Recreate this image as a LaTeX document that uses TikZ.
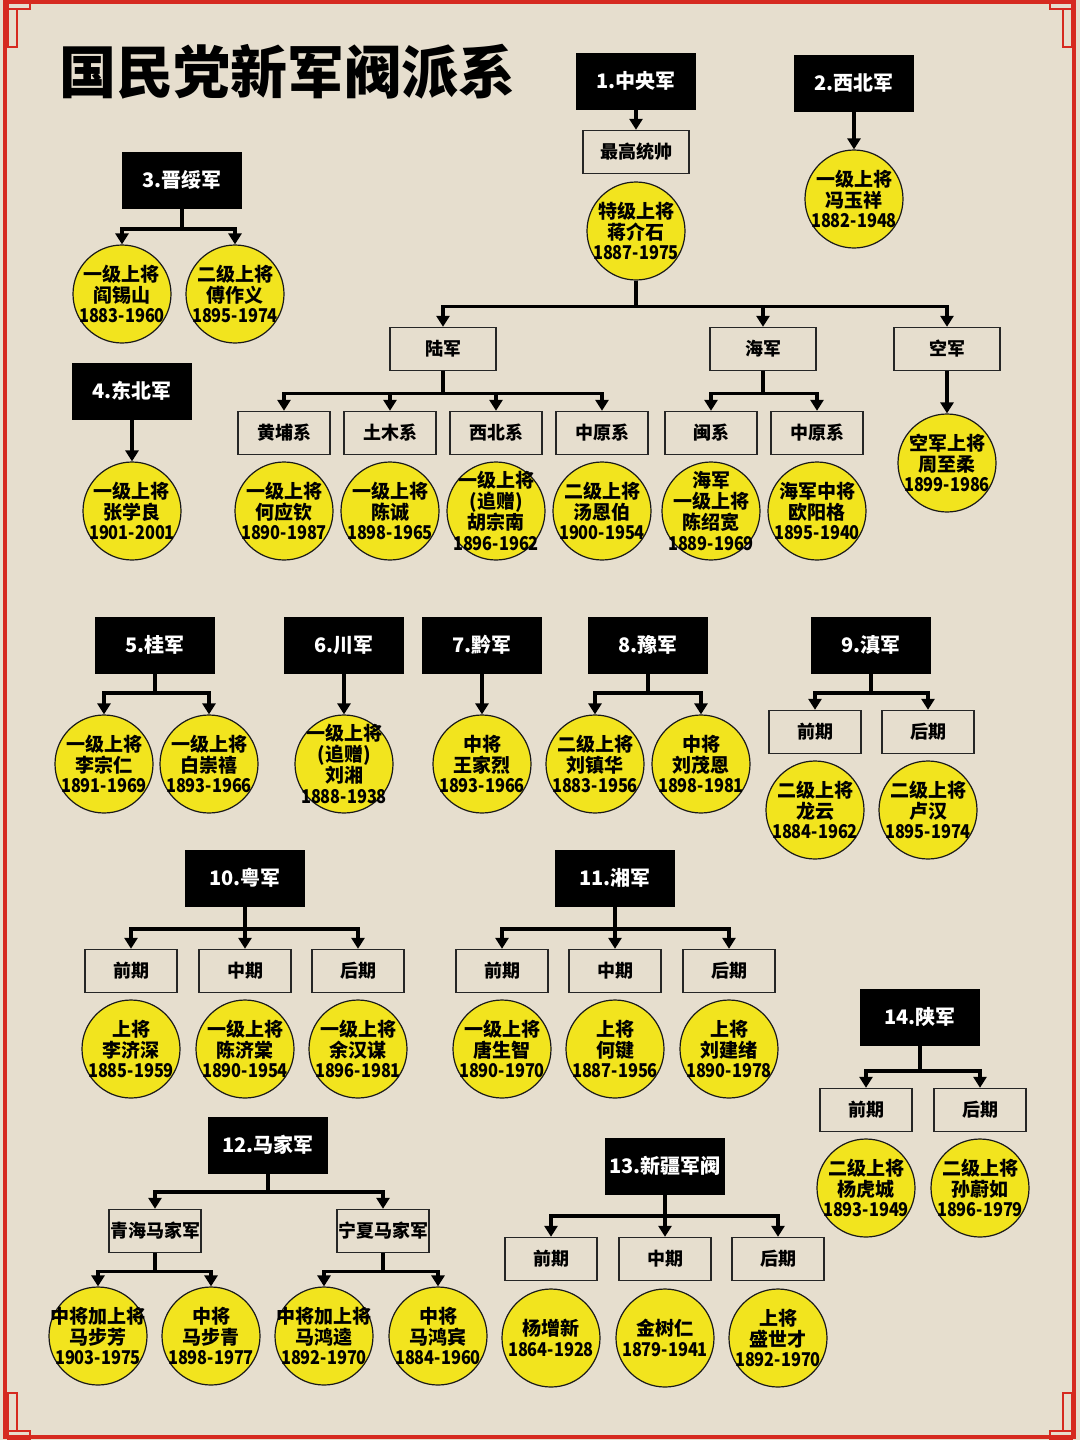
\documentclass[tikz,border=0pt]{standalone}
\usepackage{fontspec}
\usepackage{graphicx}
\setmainfont{Noto Sans CJK SC}
\usetikzlibrary{arrows.meta}
\definecolor{paper}{RGB}{230,222,206}
\definecolor{gyellow}{RGB}{242,228,30}
\definecolor{framered}{RGB}{214,42,32}
\newcommand{\yrs}[1]{\scalebox{0.86}[1]{#1}}
\tikzset{
    x=0.5pt, y=-0.5pt,
    army/.style={
        fill=black, text=white,
        minimum width=60pt, minimum height=28.5pt, inner sep=0pt,
        font=\fontsize{10}{12}\selectfont\bfseries
    },
    branch/.style={
        draw=black!85, line width=0.7pt,
        minimum width=46pt, minimum height=21.5pt, inner sep=0pt,
        font=\fontsize{9}{10}\selectfont\bfseries
    },
    widebox/.style={
        branch, minimum width=53pt
    },
    general/.style={
        circle, draw=black!90, line width=0.6pt, fill=gyellow,
        minimum size=49pt, inner sep=-8pt, align=center,
        font=\fontsize{9.5}{10.4}\selectfont\bfseries
    },
    link/.style={
        line width=1.6pt,
        -{Triangle[width=6.5pt,length=5.5pt]}
    },
    frame/.style={
        draw=framered, line width=1.2pt
    }
}

\begin{document}
\begin{tikzpicture}
    \useasboundingbox (0,0) rectangle (1080,1440);
    \fill[paper] (0,0) rectangle (1080,1440);
    % red frame and corners
    \draw[framered, line width=2.2pt] (5,2) rectangle (1074,1437);
    \draw[frame] (8,0) rectangle (30,9) (8,9) rectangle (17,47);
    \draw[frame] (1050,0) rectangle (1072,9) (1063,9) rectangle (1072,47);
    \draw[frame] (8,1431) rectangle (30,1440) (8,1393) rectangle (17,1431);
    \draw[frame] (1050,1431) rectangle (1072,1440) (1063,1393) rectangle (1072,1431);

    \node[anchor=west, font=\fontsize{28.5}{30}\selectfont\bfseries] (title) at (52,72) {国民党新军阀派系};

    % army headers
    \node[army] (a1) at (636,81) {1.中央军};
    \node[army] (a2) at (854,83) {2.西北军};
    \node[army] (a3) at (182,180) {3.晋绥军};
    \node[army] (a4) at (132,391) {4.东北军};
    \node[army] (a5) at (155,645) {5.桂军};
    \node[army] (a6) at (344,645) {6.川军};
    \node[army] (a7) at (482,645) {7.黔军};
    \node[army] (a8) at (648,645) {8.豫军};
    \node[army] (a9) at (871,645) {9.滇军};
    \node[army] (a10) at (245,878) {10.粤军};
    \node[army] (a11) at (615,878) {11.湘军};
    \node[army] (a12) at (268,1145) {12.马家军};
    \node[army] (a13) at (665,1166) {13.新疆军阀};
    \node[army] (a14) at (920,1017) {14.陕军};

    % 1. central army
    \node[widebox] (zg) at (636,152) {最高统帅};
    \node[general] (jiang) at (636,231) {特级上将\\蒋介石\\\yrs{1887-1975}};
    \node[widebox] (lu) at (443,349) {陆军};
    \node[widebox] (hai) at (763,349) {海军};
    \node[widebox] (kong) at (947,349) {空军};
    \node[branch] (huangpu) at (284,433) {黄埔系};
    \node[branch] (tumu) at (390,433) {土木系};
    \node[branch] (xibei) at (496,433) {西北系};
    \node[branch] (zhongyuan) at (602,433) {中原系};
    \node[branch] (min) at (711,433) {闽系};
    \node[branch] (zhongyuanh) at (817,433) {中原系};
    \node[general] (he) at (284,511) {一级上将\\何应钦\\\yrs{1890-1987}};
    \node[general] (chencheng) at (390,511) {一级上将\\陈诚\\\yrs{1898-1965}};
    \node[general] (hu) at (496,511) {一级上将\\(追赠)\\胡宗南\\\yrs{1896-1962}};
    \node[general] (tang) at (602,511) {二级上将\\汤恩伯\\\yrs{1900-1954}};
    \node[general] (chensk) at (711,511) {海军\\一级上将\\陈绍宽\\\yrs{1889-1969}};
    \node[general] (ouyang) at (817,511) {海军中将\\欧阳格\\\yrs{1895-1940}};
    \node[general] (zhou) at (947,463) {空军上将\\周至柔\\\yrs{1899-1986}};

    % 2.-4.
    \node[general] (feng) at (854,199) {一级上将\\冯玉祥\\\yrs{1882-1948}};
    \node[general] (yan) at (122,294) {一级上将\\阎锡山\\\yrs{1883-1960}};
    \node[general] (fu) at (235,294) {二级上将\\傅作义\\\yrs{1895-1974}};
    \node[general] (zhang) at (132,511) {一级上将\\张学良\\\yrs{1901-2001}};

    % 5.-9.
    \node[general] (li) at (104,764) {一级上将\\李宗仁\\\yrs{1891-1969}};
    \node[general] (bai) at (209,764) {一级上将\\白崇禧\\\yrs{1893-1966}};
    \node[general] (liuxiang) at (344,764) {一级上将\\(追赠)\\刘湘\\\yrs{1888-1938}};
    \node[general] (wang) at (482,764) {中将\\王家烈\\\yrs{1893-1966}};
    \node[general] (liuzh) at (595,764) {二级上将\\刘镇华\\\yrs{1883-1956}};
    \node[general] (liume) at (701,764) {中将\\刘茂恩\\\yrs{1898-1981}};
    \node[branch] (d1) at (815,732) {前期};
    \node[branch] (d2) at (928,732) {后期};
    \node[general] (long) at (815,810) {二级上将\\龙云\\\yrs{1884-1962}};
    \node[general] (luhan) at (928,810) {二级上将\\卢汉\\\yrs{1895-1974}};

    % 10.-11.
    \node[branch] (y1) at (131,971) {前期};
    \node[branch] (y2) at (245,971) {中期};
    \node[branch] (y3) at (358,971) {后期};
    \node[general] (lijs) at (131,1049) {上将\\李济深\\\yrs{1885-1959}};
    \node[general] (chenjt) at (245,1049) {一级上将\\陈济棠\\\yrs{1890-1954}};
    \node[general] (yuhm) at (358,1049) {一级上将\\余汉谋\\\yrs{1896-1981}};
    \node[branch] (x1) at (502,971) {前期};
    \node[branch] (x2) at (615,971) {中期};
    \node[branch] (x3) at (729,971) {后期};
    \node[general] (tangsz) at (502,1049) {一级上将\\唐生智\\\yrs{1890-1970}};
    \node[general] (hejian) at (615,1049) {上将\\何键\\\yrs{1887-1956}};
    \node[general] (liujx) at (729,1049) {上将\\刘建绪\\\yrs{1890-1978}};

    % 12.-14.
    \node[branch] (qinghai) at (155,1231) {青海马家军};
    \node[branch] (ningxia) at (383,1231) {宁夏马家军};
    \node[general] (mabf) at (98,1336) {中将加上将\\马步芳\\\yrs{1903-1975}};
    \node[general] (mabq) at (211,1336) {中将\\马步青\\\yrs{1898-1977}};
    \node[general] (mahk) at (324,1336) {中将加上将\\马鸿逵\\\yrs{1892-1970}};
    \node[general] (mahb) at (438,1336) {中将\\马鸿宾\\\yrs{1884-1960}};
    \node[branch] (j1) at (551,1259) {前期};
    \node[branch] (j2) at (665,1259) {中期};
    \node[branch] (j3) at (778,1259) {后期};
    \node[general] (yangzx) at (551,1338) {杨增新\\\yrs{1864-1928}};
    \node[general] (jin) at (665,1338) {金树仁\\\yrs{1879-1941}};
    \node[general] (sheng) at (778,1338) {上将\\盛世才\\\yrs{1892-1970}};
    \node[branch] (s1) at (866,1110) {前期};
    \node[branch] (s2) at (980,1110) {后期};
    \node[general] (yanghc) at (866,1188) {二级上将\\杨虎城\\\yrs{1893-1949}};
    \node[general] (sun) at (980,1188) {二级上将\\孙蔚如\\\yrs{1896-1979}};

    % connectors
    \draw[link] (a1) -- (zg);
    \draw[link] (jiang.south) -- ++(0,26) -| (lu.north);
    \draw[link] (jiang.south) -- ++(0,26) -| (hai.north);
    \draw[link] (jiang.south) -- ++(0,26) -| (kong.north);
    \draw[link] (lu.south) -- ++(0,22) -| (huangpu.north);
    \draw[link] (lu.south) -- ++(0,22) -| (tumu.north);
    \draw[link] (lu.south) -- ++(0,22) -| (xibei.north);
    \draw[link] (lu.south) -- ++(0,22) -| (zhongyuan.north);
    \draw[link] (hai.south) -- ++(0,22) -| (min.north);
    \draw[link] (hai.south) -- ++(0,22) -| (zhongyuanh.north);
    \draw[link] (kong) -- (zhou);
    \draw[link] (a2) -- (feng);
    \draw[link] (a3.south) -- ++(0,20) -| (yan.north);
    \draw[link] (a3.south) -- ++(0,20) -| (fu.north);
    \draw[link] (a4) -- (zhang);
    \draw[link] (a5.south) -- ++(0,19) -| (li.north);
    \draw[link] (a5.south) -- ++(0,19) -| (bai.north);
    \draw[link] (a6) -- (liuxiang);
    \draw[link] (a7) -- (wang);
    \draw[link] (a8.south) -- ++(0,19) -| (liuzh.north);
    \draw[link] (a8.south) -- ++(0,19) -| (liume.north);
    \draw[link] (a9.south) -- ++(0,19) -| (d1.north);
    \draw[link] (a9.south) -- ++(0,19) -| (d2.north);
    \draw[link] (a10.south) -- ++(0,22) -| (y1.north);
    \draw[link] (a10) -- (y2);
    \draw[link] (a10.south) -- ++(0,22) -| (y3.north);
    \draw[link] (a11.south) -- ++(0,22) -| (x1.north);
    \draw[link] (a11) -- (x2);
    \draw[link] (a11.south) -- ++(0,22) -| (x3.north);
    \draw[link] (a12.south) -- ++(0,18) -| (qinghai.north);
    \draw[link] (a12.south) -- ++(0,18) -| (ningxia.north);
    \draw[link] (qinghai.south) -- ++(0,18) -| (mabf.north);
    \draw[link] (qinghai.south) -- ++(0,18) -| (mabq.north);
    \draw[link] (ningxia.south) -- ++(0,18) -| (mahk.north);
    \draw[link] (ningxia.south) -- ++(0,18) -| (mahb.north);
    \draw[link] (a13.south) -- ++(0,21) -| (j1.north);
    \draw[link] (a13) -- (j2);
    \draw[link] (a13.south) -- ++(0,21) -| (j3.north);
    \draw[link] (a14.south) -- ++(0,25) -| (s1.north);
    \draw[link] (a14.south) -- ++(0,25) -| (s2.north);
\end{tikzpicture}
\end{document}
